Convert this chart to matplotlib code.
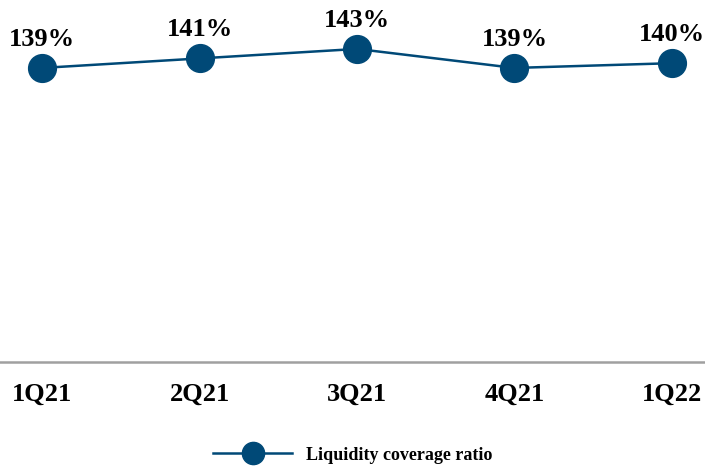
import matplotlib.pyplot as plt

quarters = ['1Q21', '2Q21', '3Q21', '4Q21', '1Q22']
lcr = [139, 141, 143, 139, 140]

plt.rcParams['font.family'] = ['Liberation Serif', 'DejaVu Serif']
plt.rcParams['font.weight'] = 'bold'

blue = '#004977'

fig = plt.figure(figsize=(7.05, 4.68), dpi=100)
ax = fig.add_axes([0, 1 - 362 / 468, 1, 362 / 468])

x = list(range(len(quarters)))
ax.plot(x, lcr, color=blue, lw=1.8, marker='o', markersize=20,
        markerfacecolor=blue, markeredgecolor=blue, label='Liquidity coverage ratio')

for xi, v in zip(x, lcr):
    ax.annotate(f'{v}%', (xi, v), xytext=(0, 16), textcoords='offset points',
                ha='center', va='baseline', fontsize=19, fontweight='bold')

ax.set_xlim(-0.267, 4.21)
ax.set_ylim(77.1, 153.3)
ax.set_xticks(x)
ax.set_xticklabels(quarters, fontsize=19, fontweight='bold')
ax.tick_params(axis='x', length=0, pad=15)
ax.set_yticks([])
for s in ['top', 'left', 'right']:
    ax.spines[s].set_visible(False)
ax.spines['bottom'].set_color('#a0a0a0')
ax.spines['bottom'].set_linewidth(1.8)

fig.legend(loc='center', bbox_to_anchor=(0.5, 1 - 455 / 468), frameon=False,
           handlelength=4.4, handletextpad=0.75, markerscale=0.8,
           prop={'size': 13, 'weight': 'bold'})

fig.savefig('out.png', dpi=100)
